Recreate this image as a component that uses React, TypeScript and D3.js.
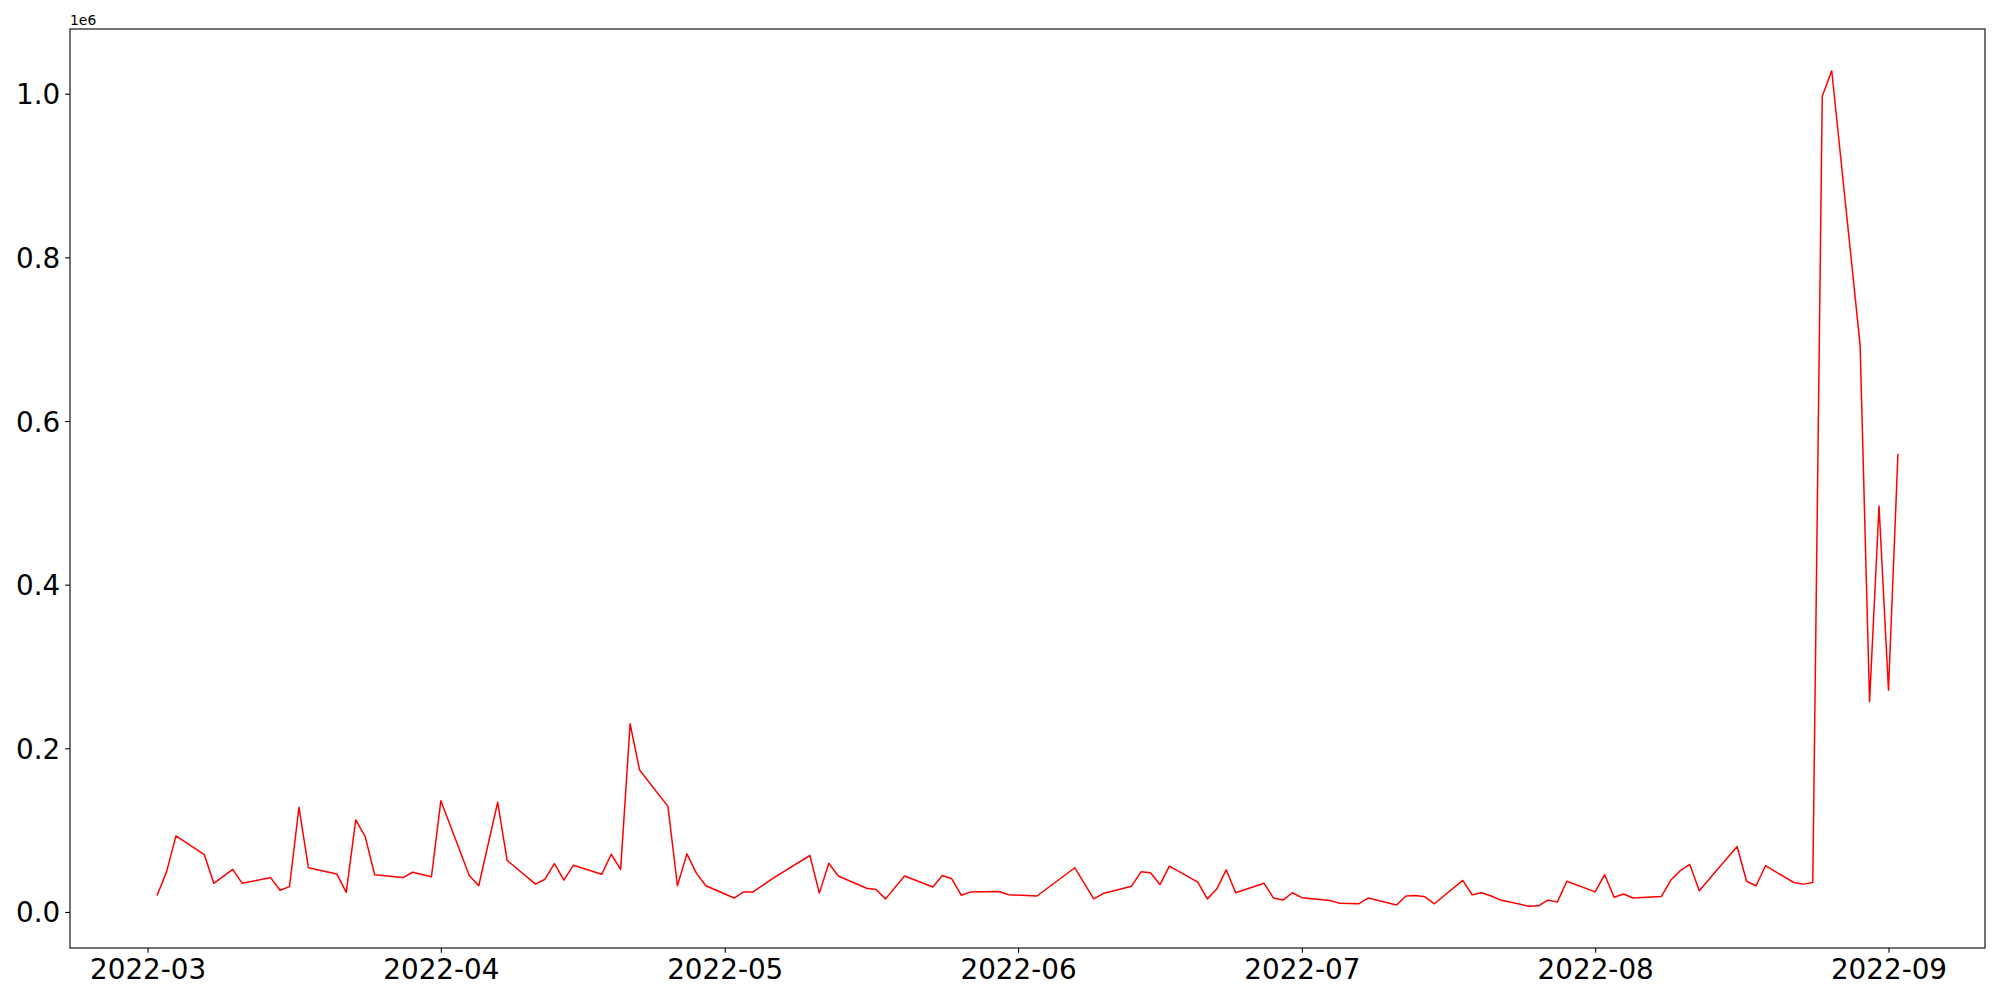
import React, { useEffect, useRef } from "react";
import * as d3 from "d3";

// business days shown in the chart (2022)
const dates: string[] = [
  "2022-03-02", "2022-03-03", "2022-03-04", "2022-03-07", "2022-03-08", "2022-03-10", "2022-03-11",
  "2022-03-14", "2022-03-15", "2022-03-16", "2022-03-17", "2022-03-18", "2022-03-21", "2022-03-22",
  "2022-03-23", "2022-03-24", "2022-03-25", "2022-03-28", "2022-03-29", "2022-03-31", "2022-04-01",
  "2022-04-04", "2022-04-05", "2022-04-07", "2022-04-08", "2022-04-11", "2022-04-12", "2022-04-13",
  "2022-04-14", "2022-04-15", "2022-04-18", "2022-04-19", "2022-04-20", "2022-04-21", "2022-04-22",
  "2022-04-25", "2022-04-26", "2022-04-27", "2022-04-28", "2022-04-29", "2022-05-02", "2022-05-03",
  "2022-05-04", "2022-05-06", "2022-05-10", "2022-05-11", "2022-05-12", "2022-05-13", "2022-05-16",
  "2022-05-17", "2022-05-18", "2022-05-20", "2022-05-23", "2022-05-24", "2022-05-25", "2022-05-26",
  "2022-05-27", "2022-05-30", "2022-05-31", "2022-06-03", "2022-06-07", "2022-06-09", "2022-06-10",
  "2022-06-13", "2022-06-14", "2022-06-15", "2022-06-16", "2022-06-17", "2022-06-20", "2022-06-21",
  "2022-06-22", "2022-06-23", "2022-06-24", "2022-06-27", "2022-06-28", "2022-06-29", "2022-06-30",
  "2022-07-01", "2022-07-04", "2022-07-05", "2022-07-07", "2022-07-08", "2022-07-11", "2022-07-12",
  "2022-07-13", "2022-07-14", "2022-07-15", "2022-07-18", "2022-07-19", "2022-07-20", "2022-07-21",
  "2022-07-22", "2022-07-25", "2022-07-26", "2022-07-27", "2022-07-28", "2022-07-29", "2022-08-01",
  "2022-08-02", "2022-08-03", "2022-08-04", "2022-08-05", "2022-08-08", "2022-08-09", "2022-08-10",
  "2022-08-11", "2022-08-12", "2022-08-16", "2022-08-17", "2022-08-18", "2022-08-19", "2022-08-22",
  "2022-08-23", "2022-08-24", "2022-08-25", "2022-08-26", "2022-08-29", "2022-08-30", "2022-08-31",
  "2022-09-01", "2022-09-02",
];

// values in thousands
const valuesK: number[] = [
  20, 49, 93, 70, 35, 52, 35,
  42, 26.5, 31, 128, 54, 46.5, 24,
  112.5, 92, 45.5, 42, 48.5, 43, 136,
  44.5, 32, 134, 63, 34, 40, 59,
  39, 57, 46, 70.5, 52, 230, 173.5,
  129, 32, 71, 47.5, 32, 17, 24.5,
  24.5, 40.5, 69, 23, 59.5, 44, 29,
  27.5, 16, 44, 30.5, 44.5, 40.5, 20.5,
  24.5, 25, 21, 19.5, 54, 16, 22.5,
  31.5, 49, 48, 33.5, 56, 36.5, 16,
  28, 51.5, 23.5, 35, 17, 14.5, 23.5,
  17.5, 14, 10.5, 10, 17, 8.5, 19.5,
  20, 18.5, 10, 38.5, 21, 23.5, 19.5,
  14.5, 7, 7.5, 14.5, 12, 37.5, 24.5,
  45.5, 18, 22, 17, 19, 39, 50.5,
  58, 26, 80, 37.5, 32, 56.5, 36,
  34, 36, 997, 1028, 693, 257, 496,
  271, 560,
];

const yTicks = [0, 0.2e6, 0.4e6, 0.6e6, 0.8e6, 1.0e6];
const xTickMonths = ["2022-03", "2022-04", "2022-05", "2022-06", "2022-07", "2022-08", "2022-09"];

interface Point {
  date: Date;
  value: number;
}

export default function App() {
  const svgRef = useRef<SVGSVGElement>(null);
  const width = 2000;
  const height = 1000;
  const margin = { top: 29, right: 15, bottom: 52, left: 70 };

  useEffect(() => {
    const svg = d3.select(svgRef.current);
    svg.selectAll("*").remove();

    const data: Point[] = dates.map((d, i) => ({
      date: new Date(d + "T00:00:00Z"),
      value: valuesK[i] * 1000,
    }));

    const innerW = width - margin.left - margin.right;
    const innerH = height - margin.top - margin.bottom;
    const font = "'DejaVu Sans', sans-serif";

    // matplotlib-like 5% padding
    const [x0, x1] = d3.extent(data, (d) => d.date.getTime()) as [number, number];
    const xPad = (x1 - x0) * 0.05;
    const [y0, y1] = d3.extent(data, (d) => d.value) as [number, number];
    const yPad = (y1 - y0) * 0.05;

    const x = d3
      .scaleUtc()
      .domain([new Date(x0 - xPad), new Date(x1 + xPad)])
      .range([0, innerW]);
    const y = d3
      .scaleLinear()
      .domain([y0 - yPad, y1 + yPad])
      .range([innerH, 0]);

    const g = svg
      .attr("width", width)
      .attr("height", height)
      .append("g")
      .attr("transform", `translate(${margin.left},${margin.top})`);

    const line = d3
      .line<Point>()
      .x((d) => x(d.date))
      .y((d) => y(d.value));

    g.append("path")
      .datum(data)
      .attr("fill", "none")
      .attr("stroke", "#ff0000")
      .attr("stroke-width", 1.5)
      .attr("stroke-linejoin", "round")
      .attr("d", line);

    const tick = 4.86;

    const xAxis = g
      .append("g")
      .attr("transform", `translate(0,${innerH})`)
      .call(
        d3
          .axisBottom(x)
          .tickValues(xTickMonths.map((m) => new Date(m + "-01T00:00:00Z")))
          .tickSize(tick)
          .tickPadding(tick)
          .tickFormat((d) => d3.utcFormat("%Y-%m")(d as Date))
      );

    const yAxis = g.append("g").call(
      d3
        .axisLeft(y)
        .tickValues(yTicks)
        .tickSize(tick)
        .tickPadding(tick)
        .tickFormat((d) => ((d as number) / 1e6).toFixed(1))
    );

    [xAxis, yAxis].forEach((ax) => {
      ax.select(".domain").remove();
      ax.selectAll("line").attr("stroke", "#000").attr("stroke-width", 1.1);
      ax.selectAll("text")
        .attr("fill", "#000")
        .style("font-family", font)
        .style("font-size", "27.8px");
    });
    yAxis.selectAll("text").attr("dy", "0.36em");
    xAxis.selectAll("text").attr("dy", "0.76em");

    // frame
    g.append("rect")
      .attr("width", innerW)
      .attr("height", innerH)
      .attr("fill", "none")
      .attr("stroke", "#000")
      .attr("stroke-width", 1.1);

    g.append("text")
      .attr("x", 0)
      .attr("y", -4)
      .attr("fill", "#000")
      .style("font-family", font)
      .style("font-size", "13.9px")
      .text("1e6");
  }, []);

  return (
    <div style={{ position: "absolute", left: 0, top: 0, background: "#fff" }}>
      <svg ref={svgRef} style={{ display: "block" }}></svg>
    </div>
  );
}
